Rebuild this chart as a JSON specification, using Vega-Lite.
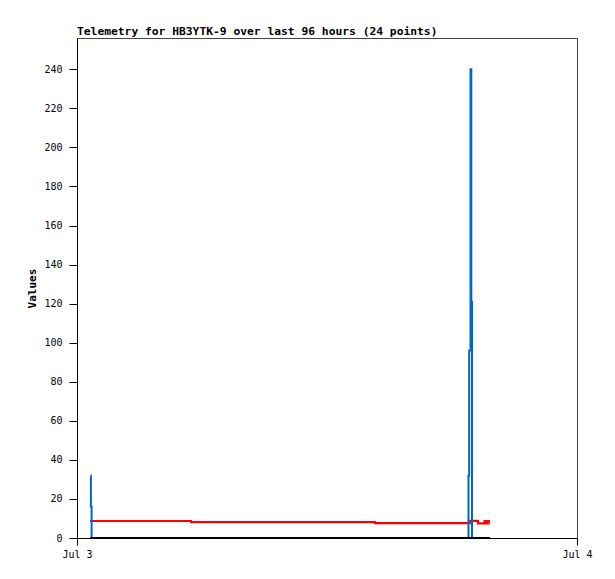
{
  "$schema": "https://vega.github.io/schema/vega-lite/v6.json",
  "autosize": "none",
  "width": 500,
  "height": 500,
  "padding": {"left": 77, "top": 38, "right": 38, "bottom": 41},
  "background": "white",
  "title": {
    "text": "Telemetry for HB3YTK-9 over last 96 hours (24 points)",
    "anchor": "start",
    "frame": "group",
    "font": "DejaVu Sans Mono",
    "fontSize": 11.3,
    "fontWeight": "bold",
    "color": "black",
    "baseline": "bottom",
    "offset": 1,
    "dy": 11
  },
  "config": {
    "view": {"stroke": "#444", "strokeWidth": 1},
    "axis": {
      "labelFont": "DejaVu Sans Mono",
      "labelFontSize": 10,
      "labelColor": "black",
      "titleFont": "DejaVu Sans Mono",
      "titleFontSize": 11,
      "titleFontWeight": "bold",
      "titleColor": "black",
      "domainColor": "black",
      "tickColor": "black",
      "grid": false
    }
  },
  "data": {
    "values": [
      {"series": "blue", "t": "2024-07-03T00:39:45", "v": 32},
      {"series": "blue", "t": "2024-07-03T00:40:02", "v": 16},
      {"series": "blue", "t": "2024-07-03T00:42:03", "v": 0},
      {"series": "blue", "t": "2024-07-03T18:47:31", "v": 32},
      {"series": "blue", "t": "2024-07-03T18:49:32", "v": 96},
      {"series": "blue", "t": "2024-07-03T18:53:20", "v": 240},
      {"series": "blue", "t": "2024-07-03T18:55:36", "v": 121},
      {"series": "blue", "t": "2024-07-03T18:57:36", "v": 0},
      {"series": "blue", "t": "2024-07-03T19:49:26", "v": 0},
      {"series": "red", "t": "2024-07-03T00:37:26", "v": 8.7},
      {"series": "red", "t": "2024-07-03T05:28:19", "v": 8.1},
      {"series": "red", "t": "2024-07-03T14:18:14", "v": 7.6},
      {"series": "red", "t": "2024-07-03T18:51:16", "v": 8.8},
      {"series": "red", "t": "2024-07-03T19:14:53", "v": 7.5},
      {"series": "red", "t": "2024-07-03T19:33:36", "v": 8.7},
      {"series": "red", "t": "2024-07-03T19:39:22", "v": 7.5},
      {"series": "red", "t": "2024-07-03T19:45:07", "v": 8.7},
      {"series": "red", "t": "2024-07-03T19:49:26", "v": 8.7},
      {"series": "black", "t": "2024-07-03T00:37:26", "v": 0},
      {"series": "black", "t": "2024-07-03T19:49:26", "v": 0}
    ]
  },
  "encoding": {
    "x": {
      "field": "t",
      "type": "temporal",
      "scale": {
        "domain": [
          {"year": 2024, "month": 7, "date": 3},
          {"year": 2024, "month": 7, "date": 4}
        ]
      },
      "axis": {
        "title": null,
        "values": [
          {"year": 2024, "month": 7, "date": 3},
          {"year": 2024, "month": 7, "date": 4}
        ],
        "format": "%b %-d",
        "tickSize": 7,
        "labelPadding": 4,
        "labelFlush": false,
        "labelOverlap": false
      }
    },
    "y": {
      "field": "v",
      "type": "quantitative",
      "scale": {"domain": [0, 256], "nice": false, "zero": true},
      "axis": {
        "title": "Values",
        "values": [0, 20, 40, 60, 80, 100, 120, 140, 160, 180, 200, 220, 240],
        "tickSize": 8,
        "labelPadding": 7,
        "titlePadding": 6,
        "labelFlush": false,
        "labelOverlap": false
      }
    }
  },
  "layer": [
    {
      "transform": [{"filter": "datum.series === 'red'"}],
      "mark": {"type": "line", "interpolate": "step-after", "color": "#ff0000", "strokeWidth": 2.2}
    },
    {
      "transform": [{"filter": "datum.series === 'blue'"}],
      "mark": {"type": "line", "interpolate": "step-after", "color": "#0066cc", "strokeWidth": 2}
    },
    {
      "transform": [{"filter": "datum.series === 'black'"}],
      "mark": {"type": "line", "interpolate": "step-after", "color": "#000000", "strokeWidth": 2.2}
    }
  ]
}
